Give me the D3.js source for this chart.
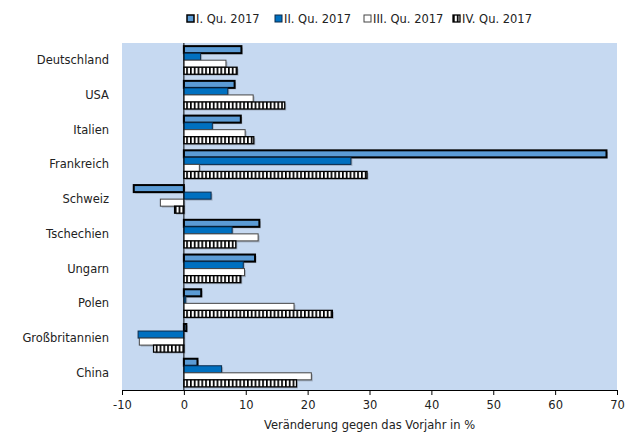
<!DOCTYPE html>
<meta charset="utf-8">
<style>
body{margin:0;background:#fff;}
text{font-family:"DejaVu Sans",sans-serif;font-size:11.5px;fill:#222;}
.axis path,.axis line{stroke:#000;}
</style>
<body>
<script src="https://d3js.org/d3.v7.min.js"></script>
<script>
var countries=["Deutschland","USA","Italien","Frankreich","Schweiz","Tschechien","Ungarn","Polen","Großbritannien","China"];
var series=["I. Qu. 2017","II. Qu. 2017","III. Qu. 2017","IV. Qu. 2017"];
var q1=[9.3,8.2,9.2,68.3,-8.1,12.2,11.5,2.8,0.4,2.2];
var q2=[2.7,7.1,4.6,27.0,4.4,7.8,9.6,0.3,-7.4,6.1];
var q3=[6.8,11.2,9.9,2.5,-3.8,12.0,9.8,17.8,-7.2,20.6];
var q4=[8.6,16.3,11.3,29.6,-1.5,8.4,9.2,24.0,-4.9,18.2];
var ticks=[-10,0,10,20,30,40,50,60,70];

var values=[q1,q2,q3,q4];
var fills=["#5b9bd5","#0070c0","#fff","url(#stripes)"];
var strokes=["#000","#0a2a4a","#444","#000"];
var widths=[2,1,1,1.3];

var W=626,H=436,m={l:122,r:9,t:43,b:46};
var svg=d3.select("body").append("svg").attr("width",W).attr("height",H);

var defs=svg.append("defs");
var pat=defs.append("pattern").attr("id","stripes").attr("patternUnits","userSpaceOnUse")
	.attr("width",3.8).attr("height",10);
pat.append("rect").attr("width",3.8).attr("height",10).attr("fill","#fff");
pat.append("rect").attr("width",1.7).attr("height",10).attr("fill","#000");

var x=d3.scaleLinear().domain([-10,70]).range([m.l,W-m.r]);
var y=d3.scaleBand().domain(countries).range([m.t,H-m.b]).paddingInner(0.19).paddingOuter(0.09);
var ys=d3.scaleBand().domain(series).range([0,y.bandwidth()]);

svg.append("rect").attr("x",m.l).attr("y",m.t).attr("width",W-m.r-m.l).attr("height",H-m.b-m.t)
	.attr("fill","#c6d9f1");

var rows=[];
countries.forEach(function(c,i){
	series.forEach(function(s,j){ rows.push({c:c,s:s,j:j,v:values[j][i]}); });
});

var g=svg.append("g");
// shadow
g.selectAll(".sh").data(rows).enter().append("rect")
	.attr("x",d=>Math.min(x(0),x(d.v))+1.5)
	.attr("y",d=>y(d.c)+ys(d.s)+1.5)
	.attr("width",d=>Math.abs(x(d.v)-x(0)))
	.attr("height",ys.bandwidth())
	.attr("fill","#8a95a3").attr("opacity",0.6);
g.selectAll(".bar").data(rows).enter().append("rect")
	.attr("x",d=>Math.min(x(0),x(d.v)))
	.attr("y",d=>y(d.c)+ys(d.s))
	.attr("width",d=>Math.abs(x(d.v)-x(0)))
	.attr("height",ys.bandwidth())
	.attr("fill",d=>fills[d.j])
	.attr("stroke",d=>strokes[d.j])
	.attr("stroke-width",d=>widths[d.j]);

svg.append("line").attr("x1",x(0)).attr("x2",x(0)).attr("y1",m.t).attr("y2",H-m.b)
	.attr("stroke","#000");

svg.append("g").attr("class","axis").attr("transform","translate(0,"+(H-m.b)+")")
	.call(d3.axisBottom(x).tickValues(ticks).tickFormat(d=>String(d)).tickSize(5).tickSizeOuter(0).tickPadding(6))
	.call(a=>a.selectAll("text").style("font-size","11.5px").style("font-family","'DejaVu Sans',sans-serif").attr("fill","#222"));

svg.selectAll(".cl").data(countries).enter().append("text")
	.attr("x",109).attr("y",d=>y(d)+y.bandwidth()/2+4)
	.attr("text-anchor","end").text(d=>d);

svg.append("text").attr("x",(m.l+W-m.r)/2).attr("y",429).attr("text-anchor","middle")
	.text("Veränderung gegen das Vorjahr in %");

var lx=[187,275,364,453];
var lg=svg.selectAll(".lg").data(series).enter().append("g")
	.attr("transform",(d,i)=>"translate("+lx[i]+",15)");
lg.append("rect").attr("width",7).attr("height",7)
	.attr("fill",(d,i)=>fills[i]).attr("stroke",(d,i)=>strokes[i]).attr("stroke-width",(d,i)=>Math.min(widths[i],1.5));
lg.append("text").attr("x",9).attr("y",8).text(d=>d);
</script>
</body>
